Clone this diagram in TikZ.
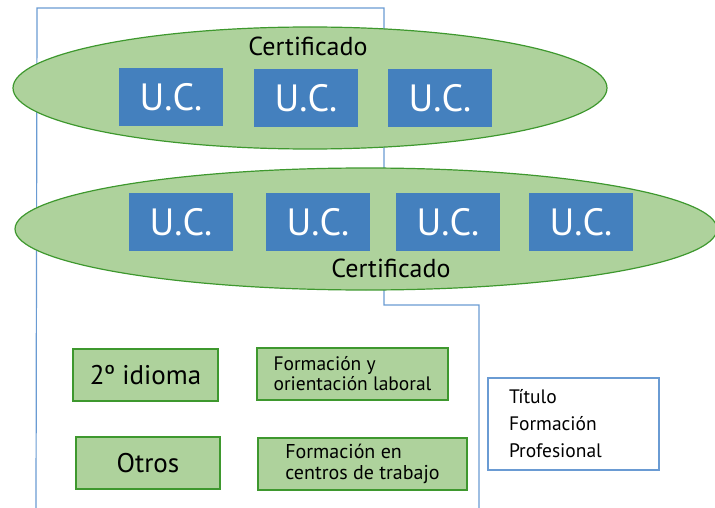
\documentclass[tikz,border=0pt]{standalone}
\usepackage{fontspec}
\setmainfont{PT Sans}
\usetikzlibrary{shapes.geometric}

\definecolor{certfill}{RGB}{174,210,156}
\definecolor{certline}{RGB}{62,152,46}
\definecolor{ucblue}{RGB}{68,128,190}
\definecolor{frameblue}{RGB}{106,155,211}

\tikzset{
  cert/.style={ellipse,draw=certline,fill=certfill,line width=1.2pt,inner sep=0pt},
  uc/.style={fill=ucblue,text=white,minimum width=104pt,minimum height=58pt,inner sep=0pt,
    font=\fontsize{38}{38}\selectfont},
  modbox/.style={draw=certline,fill=certfill,line width=1.6pt,minimum height=52pt,inner sep=0pt},
}

\begin{document}
\begin{tikzpicture}[x=1pt,y=-1pt]
  \useasboundingbox (0,0) rectangle (715,508);
  \draw[frameblue,line width=1.2pt] (36,508) -- (37,8) -- (384,8) -- (384,305) -- (479,305) -- (479,508);
  \node[cert,minimum width=594pt,minimum height=122pt] (cert1) at (310,88) {};
  \node[font=\fontsize{26}{26}\selectfont] (cert1label) at (308,46) {Certificado};
  \node[uc] (uc1) at (171,97) {U.C.};
  \node[uc] (uc2) at (306,98) {U.C.};
  \node[uc] (uc3) at (440,98) {U.C.};
  \node[cert,minimum width=702pt,minimum height=122pt] (cert2) at (366,229) {};
  \node[font=\fontsize{26}{26}\selectfont] (cert2label) at (391,268) {Certificado};
  \node[uc] (uc4) at (181,222) {U.C.};
  \node[uc] (uc5) at (318,222) {U.C.};
  \node[uc] (uc6) at (448,222) {U.C.};
  \node[uc] (uc7) at (581,222) {U.C.};
  \node[modbox,minimum width=145pt,font=\fontsize{27}{27}\selectfont] (idioma) at (145.5,375) {2º idioma};
  \node[modbox,minimum width=144pt,font=\fontsize{27}{27}\selectfont] (otros) at (148,463) {Otros};
  \node[modbox,align=left,minimum width=191pt,font=\fontsize{19.5}{20}\selectfont] (fol) at (352.5,374) {Formación y\\orientación laboral};
  \node[modbox,align=left,minimum width=209pt,font=\fontsize{20}{21}\selectfont] (fct) at (362.5,464) {Formación en\\centros de trabajo};
  \node[draw=frameblue,line width=1.2pt,minimum height=92pt,align=left,text width=129pt,inner xsep=21pt,
    font=\fontsize{19.5}{27}\selectfont] (titulo) at (573.5,424) {Título\\Formación\\Profesional};
\end{tikzpicture}
\end{document}
